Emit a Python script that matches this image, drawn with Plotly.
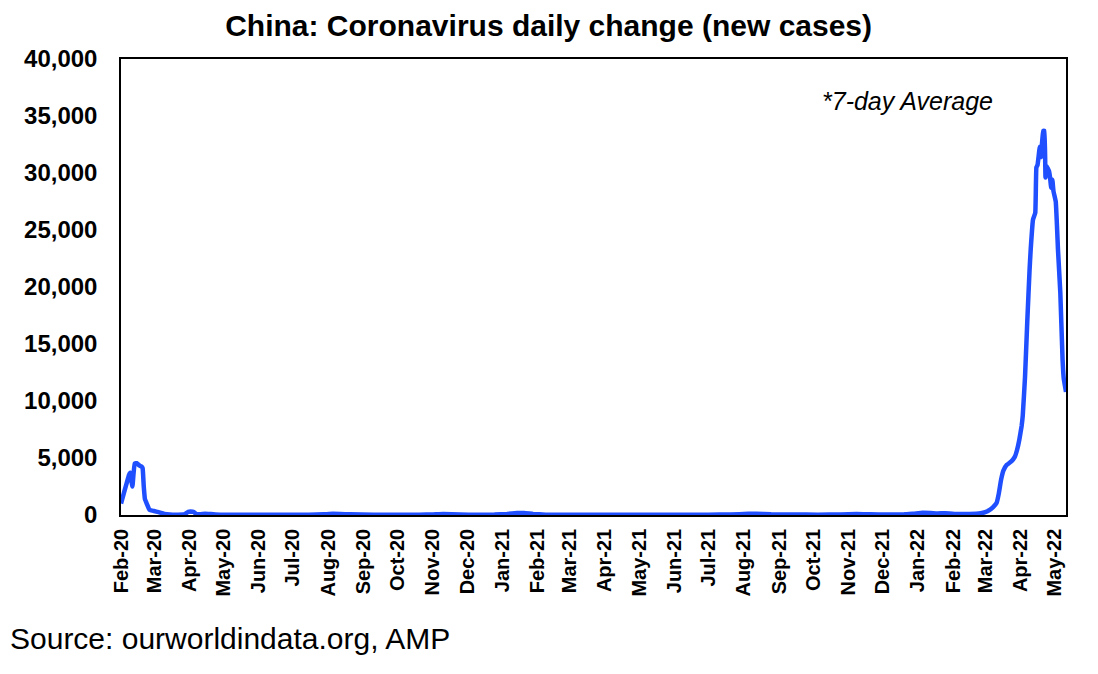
import plotly.graph_objects as go

# 7-day average of new cases, China
dates = [
    "2020-02-01", "2020-02-04", "2020-02-06", "2020-02-08", "2020-02-09", "2020-02-11",
    "2020-02-13", "2020-02-15", "2020-02-17", "2020-02-19", "2020-02-20", "2020-02-21",
    "2020-02-22", "2020-02-24", "2020-02-26", "2020-03-01", "2020-03-05", "2020-03-10",
    "2020-03-15", "2020-03-22", "2020-03-28", "2020-03-31", "2020-04-02", "2020-04-05",
    "2020-04-07", "2020-04-10", "2020-04-15", "2020-04-20", "2020-04-28", "2020-05-15",
    "2020-06-01", "2020-06-15", "2020-07-01", "2020-07-15", "2020-07-28", "2020-08-05",
    "2020-08-20", "2020-09-10", "2020-10-01", "2020-10-20", "2020-11-01", "2020-11-10",
    "2020-11-25", "2020-12-10", "2020-12-25", "2021-01-05", "2021-01-14", "2021-01-20",
    "2021-01-28", "2021-02-08", "2021-03-01", "2021-04-01", "2021-05-01", "2021-06-01",
    "2021-07-01", "2021-07-20", "2021-08-05", "2021-08-12", "2021-08-25", "2021-09-15",
    "2021-10-05", "2021-10-25", "2021-11-08", "2021-11-20", "2021-12-05", "2021-12-20",
    "2021-12-28", "2022-01-05", "2022-01-12", "2022-01-18", "2022-01-25", "2022-02-05",
    "2022-02-15", "2022-02-25", "2022-03-01", "2022-03-05", "2022-03-08", "2022-03-11",
    "2022-03-13", "2022-03-15", "2022-03-17", "2022-03-20", "2022-03-24", "2022-03-27",
    "2022-03-29", "2022-03-31", "2022-04-02", "2022-04-03", "2022-04-05", "2022-04-07",
    "2022-04-09", "2022-04-10", "2022-04-12", "2022-04-14", "2022-04-15", "2022-04-16",
    "2022-04-17", "2022-04-18", "2022-04-19", "2022-04-20", "2022-04-21", "2022-04-22",
    "2022-04-23", "2022-04-24", "2022-04-25", "2022-04-26", "2022-04-27", "2022-04-28",
    "2022-04-29", "2022-04-30", "2022-05-02", "2022-05-04", "2022-05-06", "2022-05-08",
    "2022-05-09", "2022-05-11",
]
new_cases = [
    1000, 2100, 2800, 3500, 3700, 2500,
    4500, 4550, 4350, 4250, 4100, 2500,
    1400, 900, 450, 350, 250, 100,
    40, 30, 80, 280, 300, 260,
    90, 70, 110, 80, 30, 20,
    20, 25, 20, 30, 60, 100,
    60, 20, 25, 20, 50, 80,
    40, 20, 40, 90, 170, 180,
    90, 30, 15, 15, 15, 20,
    30, 50, 100, 110, 60, 40,
    30, 40, 80, 60, 40, 60,
    120, 190, 170, 130, 160, 90,
    90, 150, 250, 450, 700, 1050,
    1900, 3100, 3900, 4400, 4700, 5100,
    5700, 6600, 7800, 8700, 12100, 17000,
    21500, 23300, 25900, 26500, 30500, 30700,
    31500, 32300, 31400, 32700, 33700, 33700,
    29600, 30600, 30400, 30200, 29600, 28700,
    29400, 28400, 27500, 23200, 19500, 13600,
    12000, 10800,
]

month_ticks = [
    "2020-02-01", "2020-03-01", "2020-04-01", "2020-05-01", "2020-06-01", "2020-07-01",
    "2020-08-01", "2020-09-01", "2020-10-01", "2020-11-01", "2020-12-01", "2021-01-01",
    "2021-02-01", "2021-03-01", "2021-04-01", "2021-05-01", "2021-06-01", "2021-07-01",
    "2021-08-01", "2021-09-01", "2021-10-01", "2021-11-01", "2021-12-01", "2022-01-01",
    "2022-02-01", "2022-03-01", "2022-04-01", "2022-05-01",
]
y_ticks = [0, 5000, 10000, 15000, 20000, 25000, 30000, 35000, 40000]

font_family = "Arial, Liberation Sans, sans-serif"

fig = go.Figure(
    go.Scatter(
        x=dates,
        y=new_cases,
        mode="lines",
        line=dict(color="#1F4FFF", width=4.5, shape="spline", smoothing=0.3),
        showlegend=False,
    )
)

# page body adds ~8px offset, so the figure is a bit smaller than the window
fig.update_layout(
    width=1090,
    height=666,
    margin=dict(l=113, r=32, t=51, b=159),
    plot_bgcolor="white",
    paper_bgcolor="white",
    font=dict(family=font_family, color="black"),
    title=dict(
        text="<b>China: Coronavirus daily change (new cases)</b>",
        x=0.496,
        xanchor="center",
        y=0.974,
        yanchor="middle",
        font=dict(size=30, family=font_family, color="black"),
    ),
    xaxis=dict(
        type="date",
        range=["2020-02-01", "2022-05-11"],
        tickvals=month_ticks,
        tickformat="%b-%y",
        tickangle=-90,
        tickfont=dict(size=20, family=font_family, weight="bold"),
        showgrid=False,
        zeroline=False,
        showline=True,
        linecolor="black",
        linewidth=1.5,
        mirror=True,
        ticks="",
        ticklabelstandoff=4,
    ),
    yaxis=dict(
        range=[0, 40000],
        tickvals=y_ticks,
        tickformat=",",
        tickfont=dict(size=24, family=font_family, weight="bold"),
        showgrid=False,
        zeroline=False,
        showline=True,
        linecolor="black",
        linewidth=1.5,
        mirror=True,
        ticks="",
        ticklabelstandoff=17,
    ),
    annotations=[
        dict(
            text="<i>*7-day Average</i>",
            xref="paper", yref="paper",
            x=0.832, y=0.908,
            xanchor="center", yanchor="middle",
            showarrow=False,
            font=dict(size=25, family=font_family, color="black"),
        ),
        dict(
            text="Source: ourworldindata.org, AMP",
            xref="paper", yref="paper",
            x=-113 / 945, y=-123 / 456,
            xanchor="left", yanchor="middle",
            showarrow=False,
            font=dict(size=30, family=font_family, color="black"),
        ),
    ],
)

fig.write_html("out.html")
